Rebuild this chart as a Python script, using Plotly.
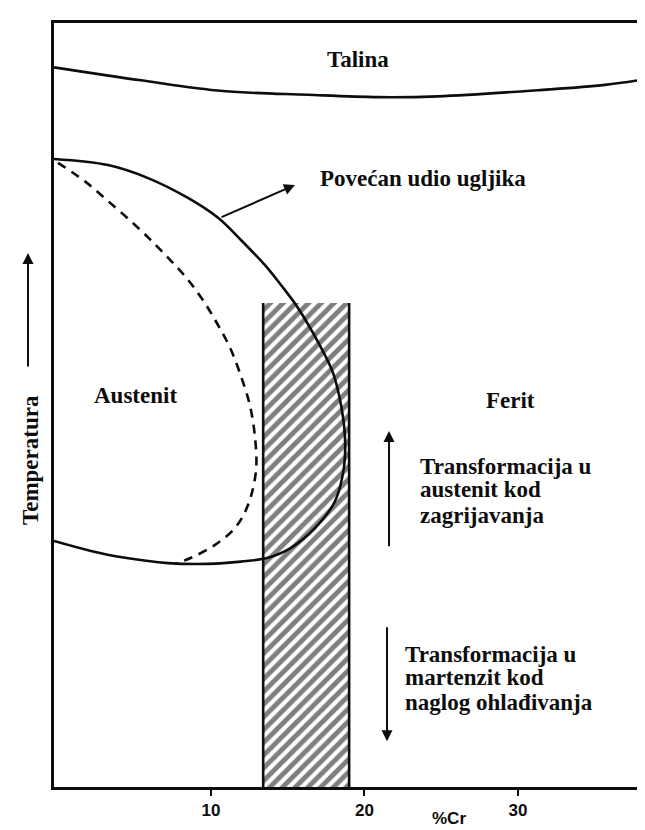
import plotly.graph_objects as go

# ---- data (x = %Cr, y = relative temperature 0..100) ----
talina_x = [-0.23, 5.44, 10.78, 16.32, 20.88, 24.79, 31.30, 35.67, 38.80]
talina_y = [94.2, 92.5, 91.1, 90.6, 90.3, 90.4, 91.2, 91.9, 92.8]

dome_x = [-0.23, 3.29, 5.90, 8.50, 10.46, 11.95, 13.52, 14.56, 15.67, 17.17, 17.95,
          18.47, 18.73, 18.66, 18.08, 16.78, 15.21, 13.71, 11.95, 9.80, 7.20, 4.40, 2.18, -0.23]
dome_y = [82.2, 81.4, 79.7, 77.1, 74.5, 71.6, 68.3, 65.7, 62.7, 57.5, 54.2,
          50.0, 45.7, 41.8, 37.4, 33.9, 31.3, 30.0, 29.5, 29.2, 29.3, 30.0, 30.9, 32.2]

dashed_x = [0.03, 1.77, 3.29, 5.03, 6.42, 7.52, 8.50, 9.48, 10.39, 11.24, 11.95,
            12.54, 12.87, 12.93, 12.41, 11.56, 10.26, 8.70, 7.65]
dashed_y = [81.7, 79.3, 76.7, 73.6, 70.9, 68.6, 66.4, 63.7, 60.7, 57.5, 53.8,
            49.9, 45.7, 41.4, 36.9, 33.9, 31.7, 30.0, 29.2]

hatch_left = 13.4
hatch_right = 19.0
hatch_top = 63.35

tick_vals = [10, 20, 30]
tick_text = ["10", "20", "30"]

x_range = [-0.23, 38.8]
y_range = [0, 100]

SERIF = "Liberation Serif, Times New Roman, serif"
SANS = "Liberation Sans, Arial, sans-serif"
INK = "#0d0d0d"

fig = go.Figure()

# hatched band
fig.add_trace(go.Bar(
    x=[(hatch_left + hatch_right) / 2], y=[hatch_top], base=0,
    width=[hatch_right - hatch_left],
    marker=dict(color="white", line=dict(width=0),
                pattern=dict(shape="/", fgcolor="black", bgcolor="white",
                             size=9, solidity=0.55)),
    hoverinfo="skip", showlegend=False))
# band edges
for xe in (hatch_left, hatch_right):
    fig.add_trace(go.Scatter(x=[xe, xe], y=[0, hatch_top], mode="lines",
                             line=dict(color=INK, width=2.6),
                             hoverinfo="skip", showlegend=False))

# liquidus (Talina)
fig.add_trace(go.Scatter(x=talina_x, y=talina_y, mode="lines",
                         line=dict(color=INK, width=2.6, shape="spline"),
                         hoverinfo="skip", showlegend=False))
# austenite loop (higher carbon)
fig.add_trace(go.Scatter(x=dome_x, y=dome_y, mode="lines",
                         line=dict(color=INK, width=2.6, shape="spline"),
                         hoverinfo="skip", showlegend=False))
# austenite loop (low carbon, dashed)
fig.add_trace(go.Scatter(x=dashed_x, y=dashed_y, mode="lines",
                         line=dict(color=INK, width=2.6, dash="9px,7px", shape="spline"),
                         hoverinfo="skip", showlegend=False))

annotations = []

def txt(text, x, y, xanchor="center", xref="x", yref="y", size=23, angle=0, family=SERIF):
    annotations.append(dict(text="<b>" + text + "</b>", x=x, y=y, xref=xref, yref=yref,
                            xanchor=xanchor, yanchor="middle", showarrow=False,
                            textangle=angle, font=dict(family=family, size=size, color=INK)))

txt("Talina", 19.6, 95.2)
txt("Povećan udio ugljika", 23.8, 79.7)
txt("Austenit", 5.1, 51.2)
txt("Ferit", 29.5, 50.6)
txt("Transformacija u", 23.49, 42.0, xanchor="left")
txt("austenit kod", 23.49, 38.9, xanchor="left")
txt("zagrijavanja", 23.49, 35.6, xanchor="left")
txt("Transformacija u", 22.51, 17.3, xanchor="left")
txt("martenzit kod", 22.51, 14.3, xanchor="left")
txt("naglog ohlađivanja", 22.51, 11.0, xanchor="left")
txt("Temperatura", -0.040, 42.8, xref="paper", angle=-90)
txt("%Cr", 25.5, -0.041, yref="paper", size=17, family=SANS)

# arrows
def arrow(x, y, ax, ay):
    annotations.append(dict(x=x, y=y, ax=ax, ay=ay, xref="x", yref="y",
                            axref="x", ayref="y", text="", showarrow=True,
                            arrowhead=2, arrowsize=1.1, arrowwidth=2, arrowcolor=INK))

arrow(15.47, 78.8, 10.59, 74.5)          # Povećan udio ugljika
arrow(21.6, 46.6, 21.6, 31.3)            # heating
arrow(21.47, 6.0, 21.47, 21.1)           # quenching
annotations.append(dict(x=-0.0434, y=69.9, xref="paper", yref="y", ax=0, ay=115,
                        text="", showarrow=True, arrowhead=2, arrowsize=1.1,
                        arrowwidth=2, arrowcolor=INK))  # Temperatura

fig.update_layout(
    width=645, height=830,
    margin=dict(l=46, r=0, t=15, b=51),
    paper_bgcolor="white", plot_bgcolor="white",
    showlegend=False,
    annotations=annotations,
    xaxis=dict(range=x_range, showgrid=False, zeroline=False,
               showline=True, linecolor=INK, linewidth=3, mirror=True,
               tickvals=tick_vals, ticktext=tick_text,
               ticks="outside", ticklen=6, tickwidth=2, tickcolor=INK,
               tickfont=dict(family=SANS, size=17, color=INK, weight="bold")),
    yaxis=dict(range=y_range, showgrid=False, zeroline=False,
               showline=True, linecolor=INK, linewidth=2.5,
               showticklabels=False, ticks=""),
)

fig.write_html("out.html")
